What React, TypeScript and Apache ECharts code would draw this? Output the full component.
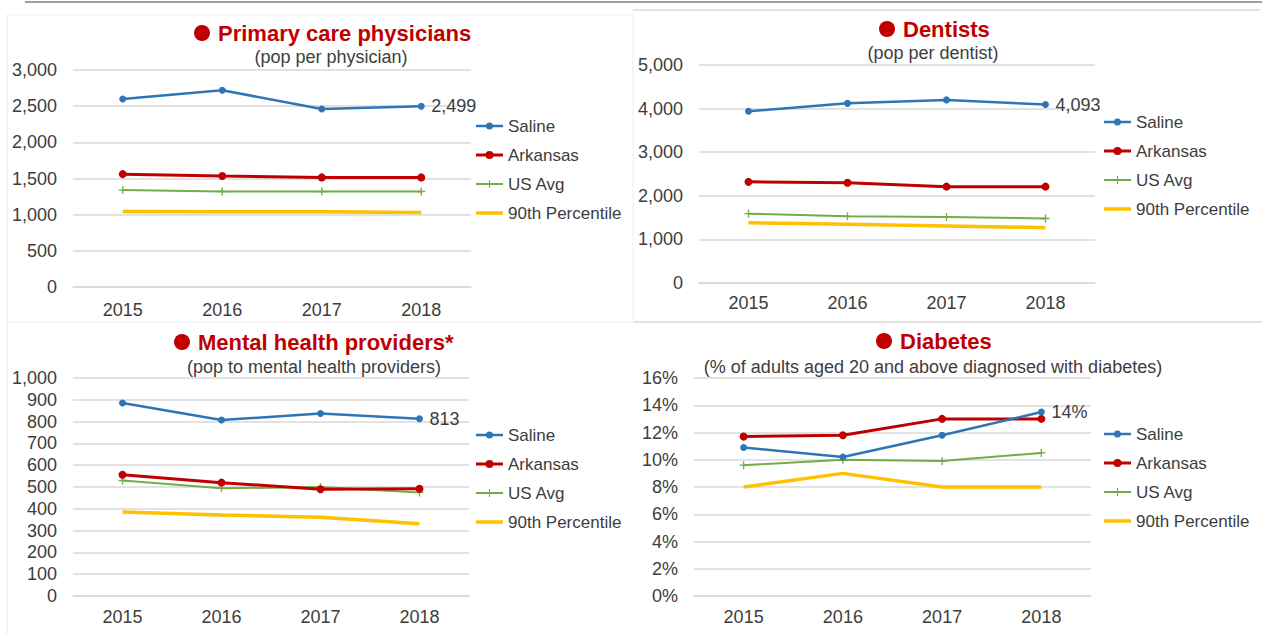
import React, { useEffect, useRef } from 'react';
import * as echarts from 'echarts';

const years = ['2015', '2016', '2017', '2018'];
const seriesNames = ['Saline', 'Arkansas', 'US Avg', '90th Percentile'];

const physicianSaline = [2600, 2720, 2460, 2499];
const physicianArkansas = [1560, 1535, 1515, 1515];
const physicianUS = [1340, 1320, 1320, 1320];
const physician90 = [1045, 1040, 1040, 1030];

const dentistSaline = [3940, 4120, 4200, 4093];
const dentistArkansas = [2320, 2300, 2210, 2210];
const dentistUS = [1590, 1530, 1515, 1480];
const dentist90 = [1380, 1350, 1310, 1270];

const mentalSaline = [885, 807, 837, 813];
const mentalArkansas = [556, 520, 490, 492];
const mentalUS = [530, 494, 500, 475];
const mental90 = [385, 372, 361, 331];

const diabetesSaline = [10.9, 10.2, 11.8, 13.5];
const diabetesArkansas = [11.7, 11.8, 13.0, 13.0];
const diabetesUS = [9.6, 10.0, 9.9, 10.5];
const diabetes90 = [8.0, 9.0, 8.0, 8.0];

const panelTitles = ['Primary care physicians', 'Dentists', 'Mental health providers*', 'Diabetes'];
const panelSubtitles = [
  '(pop per physician)',
  '(pop per dentist)',
  '(pop to mental health providers)',
  '(% of adults aged 20 and above diagnosed with diabetes)',
];
const yMaxes = [3000, 5000, 1000, 16];
const ySteps = [500, 1000, 100, 2];
const isPercent = [false, false, false, true];

const panelData = [
  [physicianSaline, physicianArkansas, physicianUS, physician90],
  [dentistSaline, dentistArkansas, dentistUS, dentist90],
  [mentalSaline, mentalArkansas, mentalUS, mental90],
  [diabetesSaline, diabetesArkansas, diabetesUS, diabetes90],
];

const FONT = "'Liberation Sans', Arial, sans-serif";
const TEXT = '#3d3d3d';
const RED = '#C00000';

const layouts = [
  { grid: { left: 73, top: 70, width: 398, height: 217 }, legend: { left: 476, top: 117 }, dotX: 202, titleX: 218, titleY: 33, sub: { x: 331, y: 57 }, xMargin: 14 },
  { grid: { left: 699, top: 65, width: 396, height: 218 }, legend: { left: 1104, top: 113 }, dotX: 887, titleX: 903, titleY: 29, sub: { x: 933, y: 53 }, xMargin: 11 },
  { grid: { left: 73, top: 378, width: 396, height: 218 }, legend: { left: 476, top: 426 }, dotX: 182, titleX: 198, titleY: 342, sub: { x: 314, y: 367 }, xMargin: 12 },
  { grid: { left: 694, top: 378, width: 397, height: 218 }, legend: { left: 1104, top: 425 }, dotX: 884, titleX: 900, titleY: 341, sub: { x: 933, y: 367 }, xMargin: 12 },
];

const plusSymbol = 'path://M2.5,0H3.5V2.5H6V3.5H3.5V6H2.5V3.5H0V2.5H2.5Z';

const seriesStyles = [
  { color: '#2E75B6', width: 2.5, symbol: 'circle', size: 7,
    icon: 'path://M0,2.25H27V4.75H0Z M10,3.5A3.5,3.5 0 1 1 17,3.5A3.5,3.5 0 1 1 10,3.5Z' },
  { color: '#C00000', width: 3, symbol: 'circle', size: 8,
    icon: 'path://M0,2.5H27V5.5H0Z M9.5,4A4,4 0 1 1 17.5,4A4,4 0 1 1 9.5,4Z' },
  { color: '#70AD47', width: 2, symbol: plusSymbol, size: 8,
    icon: 'path://M0,3H27V5H0Z M13,0H14V8H13Z' },
  { color: '#FFC000', width: 3.5, symbol: 'none', size: 0,
    icon: 'path://M0,0H27V3.5H0Z' },
];

function fmtValue(v: number, pct: boolean): string {
  if (pct) return Math.round(v) + '%';
  return Math.round(v).toLocaleString('en-US');
}

export default function App() {
  const ref = useRef<HTMLDivElement>(null);

  useEffect(() => {
    document.body.style.margin = '0';
    if (!ref.current) return;
    const chart = echarts.init(ref.current, null, { renderer: 'svg' });

    const grids = layouts.map((l) => ({ ...l.grid, containLabel: false }));
    const xAxes = layouts.map((l, i) => ({
      type: 'category',
      gridIndex: i,
      data: years,
      boundaryGap: true,
      axisLine: { show: true, lineStyle: { color: '#D9D9D9', width: 1.5 } },
      axisTick: { show: false },
      axisLabel: { color: TEXT, fontSize: 18, fontFamily: FONT, margin: l.xMargin },
    }));
    const yAxes = layouts.map((l, i) => ({
      type: 'value',
      gridIndex: i,
      min: 0,
      max: yMaxes[i],
      interval: ySteps[i],
      axisLine: { show: false },
      axisTick: { show: false },
      splitLine: { show: true, lineStyle: { color: '#D9D9D9', width: 1.5 } },
      axisLabel: {
        color: TEXT,
        fontSize: 18,
        fontFamily: FONT,
        margin: 16,
        formatter: (v: number) => (isPercent[i] ? v + '%' : v.toLocaleString('en-US')),
      },
    }));

    const series: any[] = [];
    panelData.forEach((group, p) => {
      group.forEach((vals, s) => {
        const st = seriesStyles[s];
        series.push({
          type: 'line',
          name: seriesNames[s],
          xAxisIndex: p,
          yAxisIndex: p,
          data: vals,
          symbol: st.symbol,
          symbolSize: st.size,
          showSymbol: st.symbol !== 'none',
          lineStyle: { color: st.color, width: st.width },
          itemStyle: { color: st.color, borderWidth: 0 },
          z: 10 - s,
          endLabel:
            s === 0
              ? {
                  show: true,
                  distance: 10,
                  color: TEXT,
                  fontSize: 18,
                  fontFamily: FONT,
                  formatter: (prm: any) => fmtValue(prm.value, isPercent[p]),
                }
              : undefined,
        });
      });
    });

    const legends = layouts.map((l) => ({
      orient: 'vertical',
      left: l.legend.left,
      top: l.legend.top,
      data: seriesNames.map((n, s) => ({ name: n, icon: seriesStyles[s].icon })),
      itemWidth: 27,
      itemHeight: 14,
      itemGap: 11,
      padding: 0,
      selectedMode: false,
      textStyle: { color: TEXT, fontSize: 17, fontFamily: FONT, lineHeight: 18 },
    }));

    const graphics: any[] = [];
    layouts.forEach((l, i) => {
      graphics.push({
        type: 'circle',
        shape: { cx: l.dotX, cy: l.titleY, r: 8 },
        style: { fill: RED },
        silent: true,
      });
      graphics.push({
        type: 'text',
        x: l.titleX,
        y: l.titleY,
        style: {
          text: panelTitles[i],
          fill: RED,
          font: `bold 22px ${FONT}`,
          textAlign: 'left',
          textVerticalAlign: 'middle',
        },
      });
      graphics.push({
        type: 'text',
        x: l.sub.x,
        y: l.sub.y,
        style: {
          text: panelSubtitles[i],
          fill: TEXT,
          font: `18px ${FONT}`,
          textAlign: 'center',
          textVerticalAlign: 'middle',
        },
      });
    });
    // frame lines of the pasted chart images
    const frame = [
      { x1: 25, y1: 2, x2: 1262, y2: 2, c: '#9E9E9E', w: 2 },
      { x1: 7, y1: 15, x2: 632, y2: 15, c: '#EEEEEE', w: 1 },
      { x1: 7, y1: 15, x2: 7, y2: 634, c: '#E6E6E6', w: 1 },
      { x1: 633, y1: 10, x2: 1260, y2: 10, c: '#E3E3E3', w: 2 },
      { x1: 633, y1: 10, x2: 633, y2: 320, c: '#EEEEEE', w: 1 },
      { x1: 633, y1: 322, x2: 1262, y2: 322, c: '#E3E3E3', w: 2 },
      { x1: 7, y1: 322, x2: 632, y2: 322, c: '#EEEEEE', w: 1 },
    ];
    frame.forEach((f) =>
      graphics.push({
        type: 'line',
        shape: { x1: f.x1, y1: f.y1, x2: f.x2, y2: f.y2 },
        style: { stroke: f.c, lineWidth: f.w },
        silent: true,
      })
    );

    chart.setOption({
      animation: false,
      backgroundColor: '#FFFFFF',
      grid: grids,
      xAxis: xAxes,
      yAxis: yAxes,
      legend: legends,
      series,
      graphic: graphics,
    });

    return () => chart.dispose();
  }, []);

  return <div ref={ref} style={{ width: 1268, height: 634 }} />;
}
